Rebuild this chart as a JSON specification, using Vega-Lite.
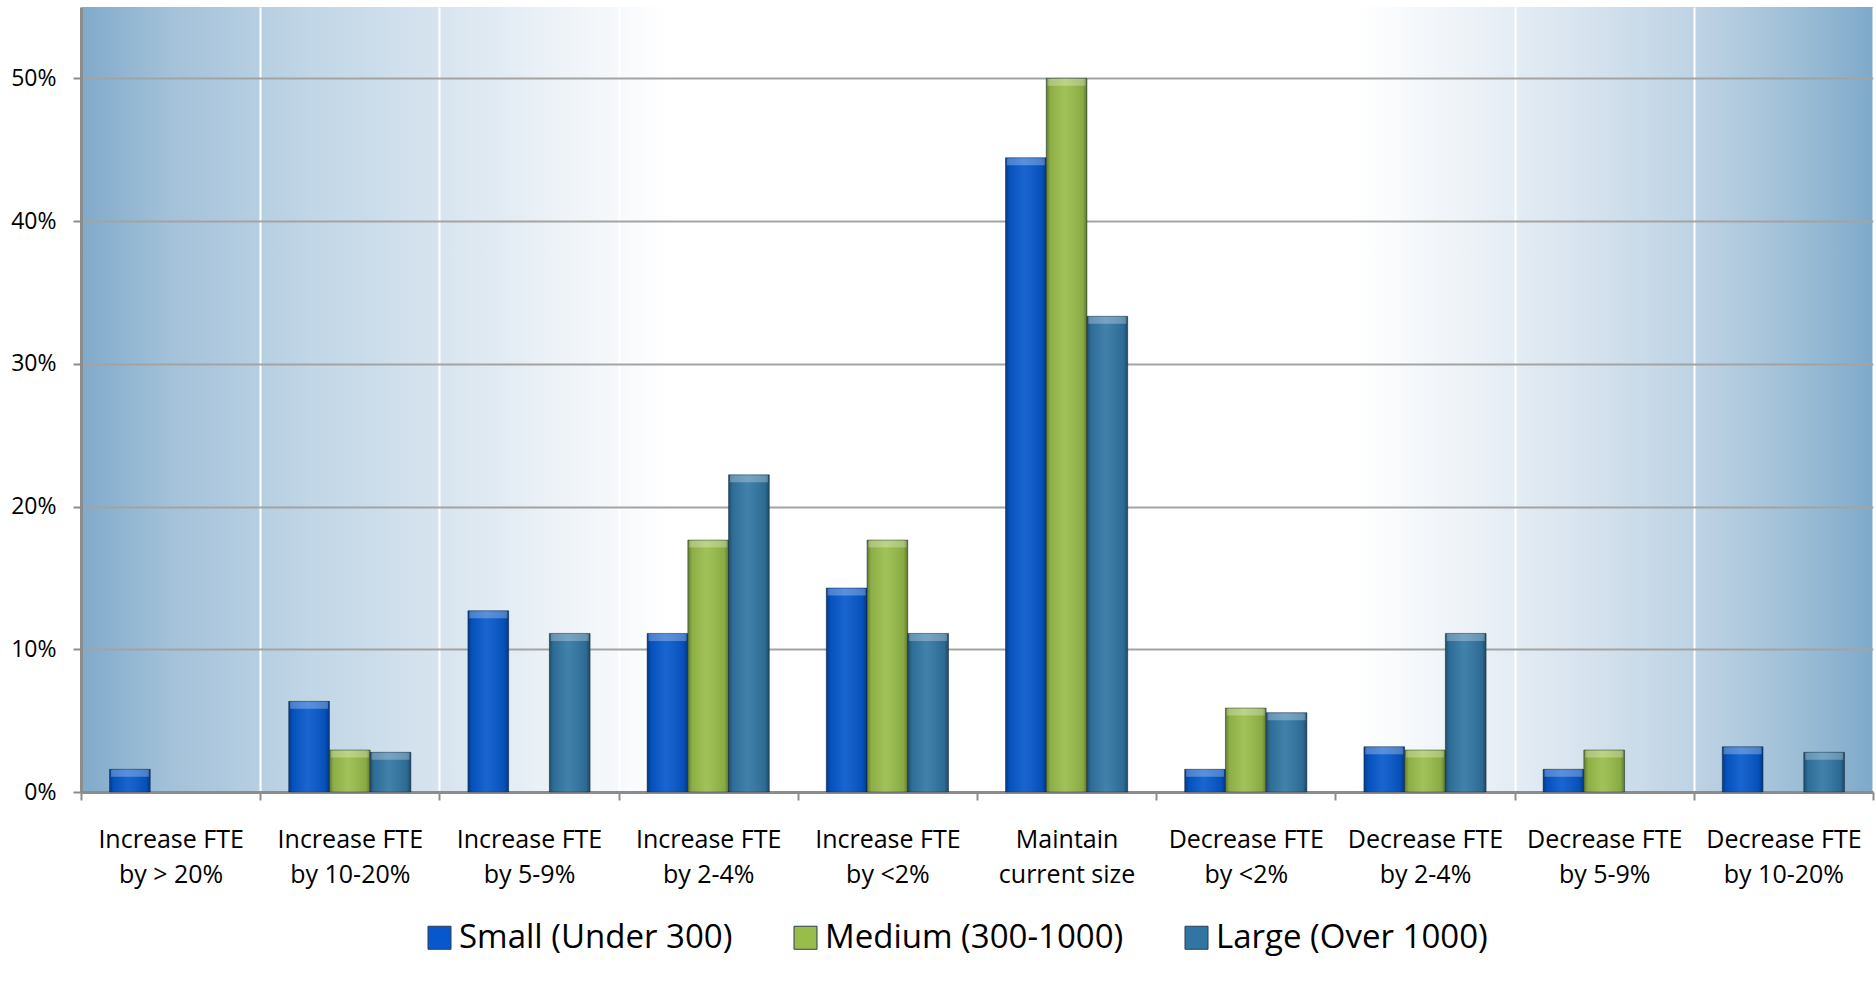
{
  "$schema": "https://vega.github.io/schema/vega-lite/v6.json",
  "width": 1792,
  "height": 785,
  "autosize": {"type": "none"},
  "padding": {"left": 81, "top": 7, "right": 3, "bottom": 196},
  "background": "white",
  "view": {
    "stroke": null,
    "fill": {
      "gradient": "linear",
      "x1": 0, "y1": 0, "x2": 1, "y2": 0,
      "stops": [
        {"offset": 0, "color": "#80aaca"},
        {"offset": 0.05, "color": "#a3c1d9"},
        {"offset": 0.12, "color": "#bed4e5"},
        {"offset": 0.2, "color": "#d7e4ef"},
        {"offset": 0.27, "color": "#eef3f8"},
        {"offset": 0.33, "color": "#ffffff"},
        {"offset": 0.71, "color": "#ffffff"},
        {"offset": 0.77, "color": "#eef3f8"},
        {"offset": 0.84, "color": "#d6e3ee"},
        {"offset": 0.91, "color": "#bad0e2"},
        {"offset": 0.96, "color": "#9bbdd6"},
        {"offset": 1, "color": "#7ea9ca"}
      ]
    }
  },
  "data": {
    "values": [
      {"plan": "Increase FTE by > 20%", "size": "Small (Under 300)", "share": 0.0159},
      {"plan": "Increase FTE by > 20%", "size": "Medium (300-1000)", "share": 0},
      {"plan": "Increase FTE by > 20%", "size": "Large (Over 1000)", "share": 0},
      {"plan": "Increase FTE by 10-20%", "size": "Small (Under 300)", "share": 0.0635},
      {"plan": "Increase FTE by 10-20%", "size": "Medium (300-1000)", "share": 0.0294},
      {"plan": "Increase FTE by 10-20%", "size": "Large (Over 1000)", "share": 0.0278},
      {"plan": "Increase FTE by 5-9%", "size": "Small (Under 300)", "share": 0.127},
      {"plan": "Increase FTE by 5-9%", "size": "Medium (300-1000)", "share": 0},
      {"plan": "Increase FTE by 5-9%", "size": "Large (Over 1000)", "share": 0.1111},
      {"plan": "Increase FTE by 2-4%", "size": "Small (Under 300)", "share": 0.1111},
      {"plan": "Increase FTE by 2-4%", "size": "Medium (300-1000)", "share": 0.1765},
      {"plan": "Increase FTE by 2-4%", "size": "Large (Over 1000)", "share": 0.2222},
      {"plan": "Increase FTE by <2%", "size": "Small (Under 300)", "share": 0.1429},
      {"plan": "Increase FTE by <2%", "size": "Medium (300-1000)", "share": 0.1765},
      {"plan": "Increase FTE by <2%", "size": "Large (Over 1000)", "share": 0.1111},
      {"plan": "Maintain current size", "size": "Small (Under 300)", "share": 0.4444},
      {"plan": "Maintain current size", "size": "Medium (300-1000)", "share": 0.5},
      {"plan": "Maintain current size", "size": "Large (Over 1000)", "share": 0.3333},
      {"plan": "Decrease FTE by <2%", "size": "Small (Under 300)", "share": 0.0159},
      {"plan": "Decrease FTE by <2%", "size": "Medium (300-1000)", "share": 0.0588},
      {"plan": "Decrease FTE by <2%", "size": "Large (Over 1000)", "share": 0.0556},
      {"plan": "Decrease FTE by 2-4%", "size": "Small (Under 300)", "share": 0.0317},
      {"plan": "Decrease FTE by 2-4%", "size": "Medium (300-1000)", "share": 0.0294},
      {"plan": "Decrease FTE by 2-4%", "size": "Large (Over 1000)", "share": 0.1111},
      {"plan": "Decrease FTE by 5-9%", "size": "Small (Under 300)", "share": 0.0159},
      {"plan": "Decrease FTE by 5-9%", "size": "Medium (300-1000)", "share": 0.0294},
      {"plan": "Decrease FTE by 5-9%", "size": "Large (Over 1000)", "share": 0},
      {"plan": "Decrease FTE by 10-20%", "size": "Small (Under 300)", "share": 0.0317},
      {"plan": "Decrease FTE by 10-20%", "size": "Medium (300-1000)", "share": 0},
      {"plan": "Decrease FTE by 10-20%", "size": "Large (Over 1000)", "share": 0.0278}
    ]
  },
  "encoding": {
    "x": {
      "field": "plan",
      "type": "nominal",
      "sort": null,
      "title": null,
      "scale": {"paddingInner": 0, "paddingOuter": 0},
      "axis": {
        "grid": true,
        "gridColor": "#ffffff",
        "gridWidth": 2,
        "gridOpacity": 1,
        "tickBand": "extent",
        "tickColor": "#8c8c8c",
        "tickWidth": 2,
        "tickSize": 8,
        "domainColor": "#8c8c8c",
        "domainWidth": 3,
        "labelFont": "Open Sans",
        "labelFontSize": 25,
        "labelColor": "#000000",
        "labelAngle": 0,
        "labelLineHeight": 35,
        "labelPadding": 27,
        "labelBaseline": "top",
        "labelLimit": 0,
        "labelExpr": "datum.label == 'Maintain current size' ? ['Maintain', 'current size'] : (indexof(datum.label, ' by ') > 0 ? [slice(datum.label, 0, indexof(datum.label, ' by ')), slice(datum.label, indexof(datum.label, ' by ') + 1)] : '')"
      }
    },
    "xOffset": {
      "field": "size",
      "type": "nominal",
      "scale": {
        "domain": ["Small (Under 300)", "Medium (300-1000)", "Large (Over 1000)"],
        "paddingInner": 0,
        "paddingOuter": 0.7
      }
    },
    "y": {
      "field": "share",
      "type": "quantitative",
      "title": null,
      "scale": {"domain": [0, 0.55], "nice": false, "zero": true},
      "axis": {
        "values": [0, 0.1, 0.2, 0.3, 0.4, 0.5],
        "format": ".0%",
        "domainColor": "#8c8c8c",
        "domainWidth": 3,
        "tickColor": "#8c8c8c",
        "tickWidth": 2,
        "tickSize": 8,
        "labelFont": "Open Sans",
        "labelFontSize": 23,
        "labelColor": "#000000",
        "labelPadding": 17,
        "gridColor": "#a3a3a3",
        "gridWidth": 2,
        "gridOpacity": 1
      }
    }
  },
  "layer": [
    {
      "transform": [{"filter": "datum.share > 0"}],
      "mark": {"type": "bar", "stroke": "#1f3550", "strokeOpacity": 0.5, "strokeWidth": 1},
      "encoding": {
        "color": {
          "field": "size",
          "type": "nominal",
          "scale": {
            "domain": ["Small (Under 300)", "Medium (300-1000)", "Large (Over 1000)"],
            "range": ["#0658cc", "#98bd4a", "#3176a3"]
          },
          "legend": {
            "orient": "none",
            "legendX": 342,
            "legendY": 914,
            "direction": "horizontal",
            "title": null,
            "symbolType": "square",
            "symbolSize": 529,
            "symbolStrokeColor": "#2b3d55",
            "symbolStrokeWidth": 1,
            "symbolOpacity": 1,
            "labelFont": "Open Sans",
            "labelFontSize": 33,
            "labelColor": "#000000",
            "labelLimit": 500,
            "labelOffset": 3,
            "columnPadding": 56
          }
        }
      }
    },
    {
      "transform": [{"filter": "datum.share > 0"}],
      "mark": {
        "type": "bar",
        "fill": {
          "gradient": "linear",
          "x1": 0, "y1": 0, "x2": 1, "y2": 0,
          "stops": [
            {"offset": 0, "color": "rgba(0,0,0,0.35)"},
            {"offset": 0.1, "color": "rgba(0,0,0,0.08)"},
            {"offset": 0.45, "color": "rgba(255,255,255,0.08)"},
            {"offset": 0.9, "color": "rgba(0,0,0,0.1)"},
            {"offset": 1, "color": "rgba(0,0,0,0.38)"}
          ]
        }
      }
    },
    {
      "transform": [{"filter": "datum.share > 0"}],
      "mark": {"type": "tick", "size": 38, "thickness": 7, "yOffset": 4, "color": "#ffffff", "opacity": 0.28}
    }
  ]
}
